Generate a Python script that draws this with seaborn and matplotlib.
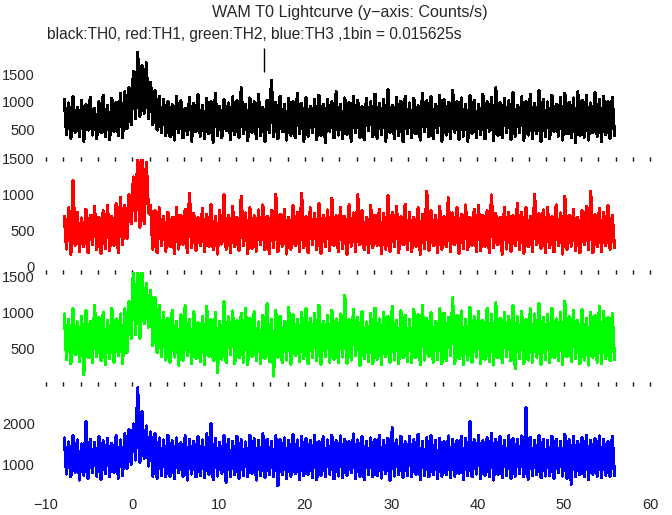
import numpy as np
import pandas as pd
import matplotlib
matplotlib.use('Agg')
import matplotlib.pyplot as plt
import seaborn as sns

# light curve values (counts/s), 0.25 s per point, starting at t = -8 s
t_start = -8.0
bin_width = 0.25

th0 = [1050, 420, 980, 350, 1100, 460, 900, 380, 1020, 300, 950, 500, 1080, 410, 880, 340,
       1000, 450, 1120, 380, 930, 330, 1060, 480, 990, 400, 1150, 360, 1180, 520, 1250, 600,
       1550, 700, 1880, 750, 1650, 800, 1700, 700, 1350, 600, 1200, 500, 1100, 450, 1050, 400,
       1000, 380, 950, 320, 1100, 450, 1020, 360, 890, 420, 1080, 300, 970, 470, 1130, 390,
       940, 350, 1060, 430, 1010, 280, 1150, 400, 920, 360, 1040, 490, 980, 330, 1090, 420,
       1020, 370, 1250, 440, 960, 310, 1070, 460, 1000, 350, 1130, 400, 900, 290, 1030, 450,
       1390, 380, 990, 340, 1100, 470, 950, 320, 1060, 410, 1010, 360, 1150, 430, 970, 300,
       1080, 390, 920, 450, 1040, 330, 1120, 400, 960, 280, 1050, 480, 1000, 360, 1180, 410,
       950, 340, 1070, 420, 990, 300, 1100, 450, 1030, 370, 910, 330, 1060, 490, 1000, 380,
       1140, 350, 970, 420, 1050, 300, 1220, 460, 940, 340, 1080, 400, 1010, 290, 1100, 440,
       980, 360, 1060, 430, 930, 320, 1150, 470, 1020, 380, 1090, 340, 960, 450, 1120, 300,
       1040, 410, 990, 350, 1210, 460, 1000, 330, 1070, 390, 950, 300, 1110, 440, 1030, 370,
       960, 420, 1140, 340, 1000, 480, 1080, 310, 1250, 400, 990, 360, 1060, 450, 1020, 330,
       1170, 390, 940, 460, 1090, 320, 1010, 410, 1130, 350, 970, 440, 1200, 300, 1050, 380,
       1000, 340, 1120, 470, 960, 390, 1080, 320, 1150, 430, 990, 360, 1070, 280, 1180, 410,
       1030, 370, 1110, 320, 980, 450, 1160, 390, 1040, 300, 1100, 420, 1010, 350, 1080, 400]

th1 = [700, 250, 820, 180, 1200, 300, 760, 220, 680, 280, 800, 200, 720, 310, 840, 240,
       690, 190, 780, 260, 850, 230, 700, 300, 880, 200, 960, 310, 850, 400, 1000, 600,
       1250, 650, 1550, 550, 1550, 600, 1450, 750, 850, 250, 780, 200, 820, 300, 700, 220,
       760, 280, 690, 190, 830, 250, 720, 310, 800, 200, 1020, 270, 740, 230, 680, 300,
       810, 210, 730, 290, 860, 240, 700, 180, 780, 320, 1000, 250, 720, 200, 840, 280,
       690, 230, 980, 300, 750, 190, 820, 260, 710, 220, 790, 310, 860, 240, 700, 190,
       780, 270, 1010, 210, 730, 290, 800, 180, 690, 250, 850, 300, 760, 220, 1020, 270,
       700, 200, 820, 310, 740, 240, 880, 190, 720, 280, 790, 230, 950, 300, 710, 210,
       830, 260, 700, 180, 860, 290, 750, 220, 1000, 310, 780, 240, 690, 200, 850, 270,
       720, 300, 800, 190, 740, 250, 990, 220, 760, 280, 840, 200, 700, 310, 870, 240,
       760, 210, 690, 290, 820, 180, 730, 260, 1050, 230, 780, 300, 710, 200, 840, 250,
       700, 280, 960, 220, 750, 310, 820, 190, 730, 260, 860, 240, 690, 300, 800, 210,
       850, 230, 720, 290, 780, 200, 1000, 270, 740, 310, 690, 180, 830, 250, 760, 220,
       710, 300, 880, 240, 760, 190, 820, 280, 700, 220, 1010, 310, 740, 260, 790, 200,
       830, 270, 700, 210, 860, 300, 750, 180, 980, 250, 720, 290, 800, 230, 690, 200,
       780, 310, 840, 240, 1050, 200, 730, 280, 810, 220, 760, 300, 850, 250, 720, 270]

th2 = [980, 360, 900, 300, 1050, 420, 870, 330, 950, 150, 1020, 380, 880, 310, 1100, 400,
       930, 340, 1000, 290, 890, 370, 1060, 320, 910, 410, 980, 300, 1050, 450, 1150, 650,
       1600, 700, 1600, 650, 1600, 850, 1400, 800, 1300, 550, 1200, 450, 1100, 400, 1000, 350,
       920, 320, 1030, 390, 880, 280, 970, 350, 1090, 410, 900, 300, 1010, 370, 860, 330,
       950, 290, 1080, 400, 900, 340, 1000, 180, 880, 360, 1150, 310, 940, 420, 1020, 300,
       890, 380, 990, 320, 1060, 290, 920, 400, 1010, 340, 870, 300, 960, 370, 1120, 330,
       900, 130, 1030, 390, 950, 310, 880, 350, 1070, 290, 970, 410, 900, 330, 1000, 370,
       1050, 300, 920, 380, 990, 340, 1100, 290, 880, 400, 960, 320, 1030, 360, 910, 310,
       980, 390, 1230, 300, 900, 350, 1040, 410, 930, 280, 1010, 370, 870, 330, 990, 300,
       1060, 360, 910, 290, 1000, 400, 950, 320, 1080, 350, 890, 300, 1020, 380, 960, 330,
       900, 310, 1040, 380, 970, 290, 1100, 350, 920, 400, 1000, 320, 880, 360, 1050, 300,
       990, 340, 930, 410, 1200, 300, 960, 370, 1020, 290, 900, 350, 1070, 320, 940, 390,
       1010, 300, 890, 360, 1060, 330, 970, 280, 1130, 380, 920, 310, 1000, 400, 950, 340,
       1090, 230, 940, 370, 1010, 300, 900, 350, 1050, 320, 980, 390, 1120, 290, 930, 360,
       970, 310, 1060, 380, 910, 340, 1000, 290, 1150, 400, 940, 330, 1030, 370, 890, 300,
       1040, 350, 920, 280, 1000, 390, 960, 320, 1080, 300, 1010, 370, 930, 340, 980, 360]

th3 = [1650, 750, 1550, 680, 1700, 800, 1600, 600, 1500, 720, 2050, 650, 1620, 780, 1540, 700,
       1680, 620, 1580, 760, 1640, 690, 1520, 800, 1700, 650, 1600, 720, 1750, 900, 1850, 1000,
       2000, 1100, 2900, 1050, 2300, 1150, 1950, 950, 1800, 700, 1750, 650, 1650, 720, 1600, 680,
       1720, 700, 1580, 640, 1650, 780, 1530, 690, 1700, 600, 1620, 750, 1560, 680, 1680, 720,
       1600, 660, 1750, 740, 2000, 610, 1640, 700, 1540, 770, 1700, 550, 1610, 690, 1570, 740,
       1690, 650, 1600, 720, 1550, 680, 1720, 760, 1630, 600, 1580, 710, 1750, 660, 1620, 740,
       1560, 690, 1700, 460, 1610, 730, 1650, 640, 1580, 700, 1730, 760, 1600, 620, 1680, 710,
       1640, 740, 1590, 670, 1720, 610, 1550, 720, 1680, 690, 1600, 750, 1710, 630, 1580, 700,
       1700, 660, 1620, 720, 1560, 780, 1750, 640, 1600, 700, 1680, 610, 1570, 740, 1650, 690,
       1610, 710, 1720, 650, 1580, 760, 1640, 600, 1900, 700, 1600, 730, 1690, 660, 1550, 720,
       1680, 690, 1600, 750, 1740, 620, 1570, 710, 1650, 680, 1710, 740, 1590, 640, 1630, 700,
       1560, 730, 1700, 660, 1620, 700, 1580, 770, 1690, 610, 1640, 720, 2050, 680, 1600, 750,
       1720, 640, 1580, 710, 1650, 690, 1760, 600, 1610, 740, 1680, 670, 1590, 720, 1700, 650,
       1640, 700, 1610, 760, 1700, 680, 2400, 620, 1660, 710, 1590, 740, 1700, 660, 1620, 700,
       1580, 720, 1690, 650, 1620, 780, 1560, 700, 1740, 640, 1600, 500, 1680, 690, 1570, 730,
       1650, 680, 1720, 620, 1590, 750, 1640, 700, 1700, 660, 1610, 720, 1560, 690, 1680, 710]

# lone high bin in TH0 near t = 15 s
th0_spike_t = [15.3]
th0_spike_lo = [1540]
th0_spike_hi = [1960]

channels = ['TH0', 'TH1', 'TH2', 'TH3']
colors = ['#000000', '#ff0000', '#00ff00', '#0000ff']
ylims = [(-20, 1930), (-70, 1500), (20, 1555), (350, 3000)]
yticks = [[500, 1000, 1500], [0, 500, 1000, 1500], [500, 1000, 1500], [1000, 2000]]

time = t_start + bin_width * (np.arange(len(th0)) + 0.5)
df = pd.DataFrame({'time': time, 'TH0': th0, 'TH1': th1, 'TH2': th2, 'TH3': th3})

sns.set_style('white')
plt.rcParams['font.family'] = ['Liberation Sans', 'DejaVu Sans']

fig = plt.figure(figsize=(6.72, 5.15), dpi=100)

# panel boxes in figure fractions: [left, bottom, width, height]
boxes = [[0.0685, 0.6913, 0.8988, 0.2116],
         [0.0685, 0.4718, 0.8988, 0.2195],
         [0.0685, 0.2544, 0.8988, 0.2174],
         [0.0685, 0.0485, 0.8988, 0.2059]]

for i, ch in enumerate(channels):
    ax = fig.add_axes(boxes[i])
    sns.lineplot(data=df, x='time', y=ch, ax=ax, color=colors[i], linewidth=1.6,
                 estimator=None, antialiased=False)
    if ch == 'TH0':
        ax.vlines(th0_spike_t, th0_spike_lo, th0_spike_hi, color='k', lw=1, clip_on=False)
    ax.set_xlim(-10, 60)
    ax.set_ylim(*ylims[i])
    ax.set_yticks(yticks[i])
    ax.set_xticks(np.arange(-10, 61, 10))
    ax.set_xticks(np.arange(-8, 59, 2), minor=True)
    ax.set_xlabel('')
    ax.set_ylabel('')
    for s in ax.spines.values():
        s.set_visible(False)
    # dotted tick marks only along the boundaries between panels
    ax.tick_params(axis='x', which='both', direction='in', length=1.5, width=1,
                   top=(i > 0), bottom=(i < 3), color='k', labelsize=10.5, pad=6)
    ax.tick_params(axis='y', length=0, labelsize=10.5, pad=8)
    if i < 3:
        ax.tick_params(axis='x', labelbottom=False)
    ax.patch.set_alpha(0)

fig.text(0.52, 0.976, 'WAM T0 Lightcurve (y\u2212axis: Counts/s)', ha='center', va='center', fontsize=11.6)
fig.text(0.07, 0.933, 'black:TH0, red:TH1, green:TH2, blue:TH3 ,1bin = 0.015625s',
         ha='left', va='center', fontsize=11.2)

plt.savefig('out.png', dpi=100)
